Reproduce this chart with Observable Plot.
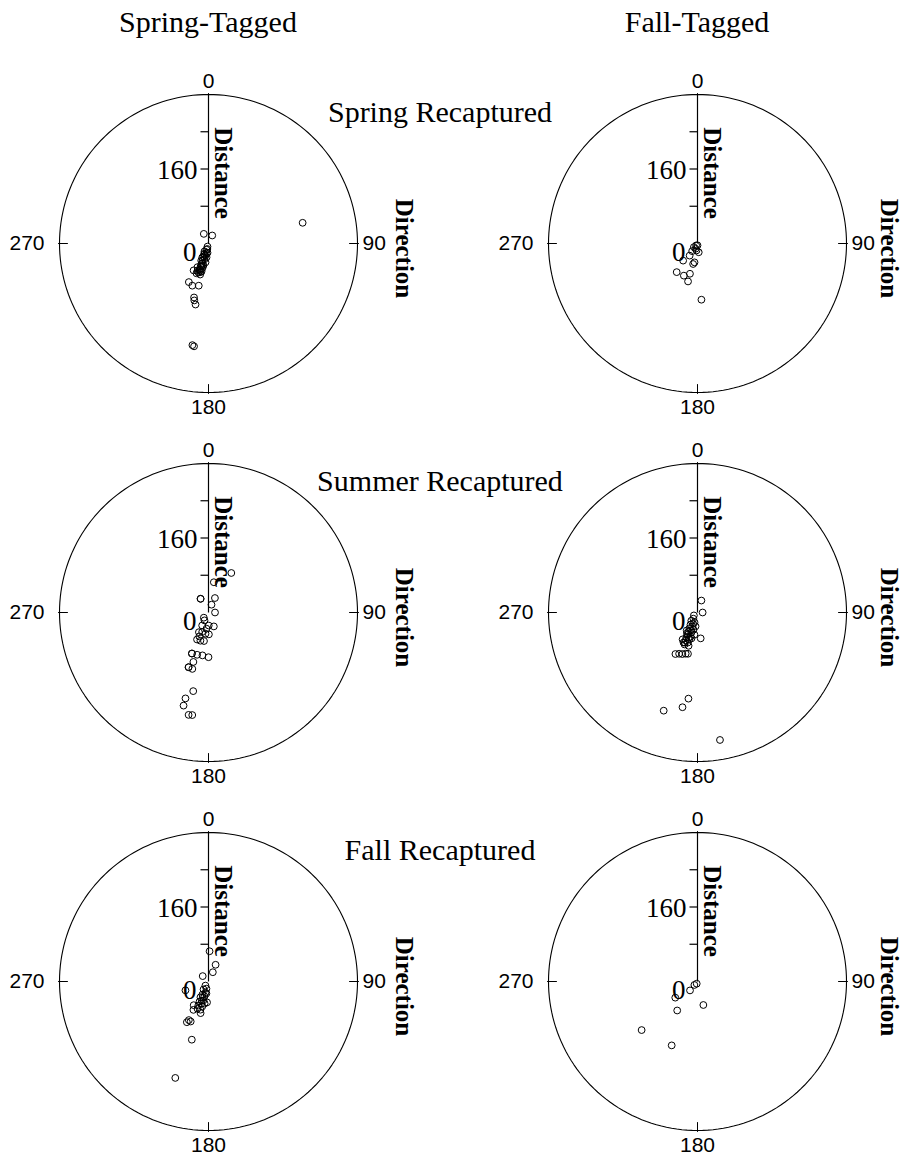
<!DOCTYPE html>
<html><head><meta charset="utf-8">
<script src="https://cdn.jsdelivr.net/npm/d3@7"></script>
<script src="https://cdn.jsdelivr.net/npm/@observablehq/plot@0.6"></script>
<style>
body{margin:0;background:#fff;}
#root{position:relative;width:903px;height:1159px;overflow:hidden;font-family:"Liberation Serif","Times New Roman",serif;color:#000;}
.title{position:absolute;font-size:30px;line-height:30px;white-space:nowrap;transform:translateX(-50%);}
.panel{position:absolute;width:420px;height:356px;}
.panel svg{max-width:none !important;}
</style></head><body><div id="root"></div>
<script>
// ---- labels & ticks ----
const tagSeasons = ["Spring-Tagged", "Fall-Tagged"];
const recapSeasons = ["Spring Recaptured", "Summer Recaptured", "Fall Recaptured"];
const directionTicks = [0, 90, 180, 270];
const distanceTicks = [80, 160, 240];
const distanceLabels = [0, 160];
const distanceMax = 320;

// ---- data: [direction (deg), distance] ----
const springTagSpringRecap = [
  [77.6,207],[334,23],[25,19],
  [198,7],[198,14],[207,19],[186,20],[194,27],[201,30],[194,35],[199,39],[189,41],[199,46],
  [193,49],[199,52],[194,55],[199,59],[194,62],[202,63],[199,66],[202,69],[195,69],[200,25],
  [188,30],[203,40],[196,45],[205,56],[197,60],[191,22],[204,33],[192,12],[203,24],[197,50],
  [209,66],[196,64],[207,93],[201,97],[193,93],[195,120],[194,126],[192,134],[189,221],[188,223]
];
const fallTagSpringRecap = [
  [225,11],[188,15],[172,19],[213,31],[189,41],[192,45],[220,48],[216,76],[203,75],[194,67],
  [194,84],[176,121],[215,5],[180,4],[215,20],[200,12]
];
const springTagSummerRecap = [
  [30,98],[10,66],[330,34],[330,34],[24,34],[21,18],[90,14],[222,15],[206,31],[179,28],[159,32],
  [206,47],[198,44],[188,46],[179,47],[203,63],[196,63],[189,62],[202,95],[195,94],[188,93],
  [180,96],[200,125],[196,126],[197,111],[191,172],[195,191],[195,207],[191,224],[189,223],
  [201,55],[207,19],[187,35],[202,95],[200,125]
];
const fallTagSummerRecap = [
  [18,27],[90,11],[231,10],[173,56],
  [214,16],[217,22],[197,22],[210,30],[200,32],[207,38],[193,38],[205,45],[197,45],[204,52],
  [196,54],[204,59],[197,61],[203,65],[198,68],[205,71],[202,74],[195,74],[209,66],[193,57],
  [188,48],[211,45],[188,30],[201,26],[207,50],[200,41],[203,70],[199,57],
  [208,101],[204,97],[200,95],[196,92],[193,91],
  [186,186],[189,206],[199,223],[170,278]
];
const springTagFallRecap = [
  [2,65],[23,39],[25,22],[313,17],[249,53],
  [184,45],[212,60],[194,70],[208,69],[207,93],[204,94],[208,99],[196,130],[199,219],
  [217,11],[196,16],[212,20],[195,25],[205,31],[195,33],[207,38],[195,42],[204,47],[198,50],
  [203,56],[194,55],[202,63],[196,63],[190,26],[190,48],[200,36],[199,44]
];
const fallTagFallRecap = [
  [222,10],[220,25],[234,59],[215,76],[166,52],[229,159],[202,148],[200,5]
];

const panels = [
  [springTagSpringRecap, fallTagSpringRecap],
  [springTagSummerRecap, fallTagSummerRecap],
  [springTagFallRecap, fallTagFallRecap]
];

// ---- layout ----
const W = 420, H = 356, CX = 200, CY = 178, R = 149;
const colCenters = [208, 697];
const rowCenters = [243, 612, 981];
const directionTitleOffset = [46, 42];

const lon = dir => 180 - dir;                    // compass direction -> longitude (north-polar view)
const lat = dist => 90 - dist * 90 / distanceMax; // distance -> latitude
const leftTick = {draw(ctx) { ctx.moveTo(-8, 0); ctx.lineTo(0, 0); }};
const serif = "Liberation Serif, Times New Roman, serif";
const sans = "Liberation Sans, Arial, sans-serif";

function polarPanel(points, col) {
  const pts = points.map(([dir, dist]) => ({dir, dist}));
  const dirLabel = (d, o) => Plot.text([d], {x: v => lon(v), y: () => lat(distanceMax), text: v => String(v),
    fontFamily: sans, fontSize: 21, fill: "black", lineAnchor: "middle", ...o});
  const distLabel = (d, o) => Plot.text([d], {x: () => lon(0), y: v => lat(v), text: v => String(v),
    textAnchor: "end", lineAnchor: "middle", fontFamily: serif, fontSize: 27, fill: "black", ...o});
  return Plot.plot({
    width: W, height: H, margin: 0,
    style: {background: "transparent", overflow: "visible"},
    projection: () => d3.geoAzimuthalEquidistant().rotate([0, -90]).scale(R * 2 / Math.PI).translate([CX, CY]).precision(0.1),
    marks: [
      Plot.geo(d3.geoCircle().center([0, 90]).radius(90)(), {fill: "none", stroke: "black", strokeWidth: 1.1}),
      Plot.link(directionTicks, {x1: d => lon(d), y1: () => lat(distanceMax - 18), x2: d => lon(d), y2: () => lat(distanceMax + 3), stroke: "black", strokeWidth: 1}),
      Plot.link([0], {x1: () => lon(0), y1: () => lat(0), x2: () => lon(0), y2: () => lat(distanceMax), stroke: "black", strokeWidth: 1.2}),
      Plot.dot(distanceTicks, {x: () => lon(0), y: d => lat(d), symbol: leftTick, r: 4, fill: "none", stroke: "black", strokeWidth: 1.2}),
      Plot.dot(pts, {x: d => lon(d.dir), y: d => lat(d.dist), r: 3.4, fill: "none", stroke: "black", strokeWidth: 1}),
      distLabel(distanceLabels[1], {dx: -11, dy: 1}),
      distLabel(distanceLabels[0], {dx: -12, dy: 9}),
      Plot.text(["Distance"], {x: () => lon(0), y: () => lat(160), text: d => d, dx: 14, dy: 4, rotate: 90,
        textAnchor: "middle", lineAnchor: "middle", fontFamily: serif, fontWeight: "bold", fontSize: 25, fill: "black"}),
      Plot.text(["Direction"], {x: () => lon(90), y: () => lat(distanceMax), text: d => d, dx: directionTitleOffset[col], dy: 5, rotate: 90,
        textAnchor: "middle", lineAnchor: "middle", fontFamily: serif, fontWeight: "bold", fontSize: 25, fill: "black"}),
      dirLabel(0, {dy: -13, textAnchor: "middle"}),
      dirLabel(90, {dx: 5, textAnchor: "start"}),
      dirLabel(180, {dy: 15, textAnchor: "middle"}),
      dirLabel(270, {dx: -15, textAnchor: "end"})
    ]
  });
}

const root = document.getElementById("root");
tagSeasons.forEach((t, c) => {
  const div = document.createElement("div");
  div.className = "title";
  div.textContent = t;
  div.style.left = colCenters[c] + "px";
  div.style.top = "7px";
  root.appendChild(div);
});
panels.forEach((row, r) => {
  row.forEach((pts, c) => {
    const div = document.createElement("div");
    div.className = "panel";
    div.style.left = (colCenters[c] - CX) + "px";
    div.style.top = (rowCenters[r] - CY) + "px";
    div.appendChild(polarPanel(pts, c));
    root.appendChild(div);
  });
});
recapSeasons.forEach((t, r) => {
  const div = document.createElement("div");
  div.className = "title";
  div.textContent = t;
  div.style.left = "440px";
  div.style.top = (rowCenters[r] - 121 - 25) + "px";
  root.appendChild(div);
});
</script></body></html>
